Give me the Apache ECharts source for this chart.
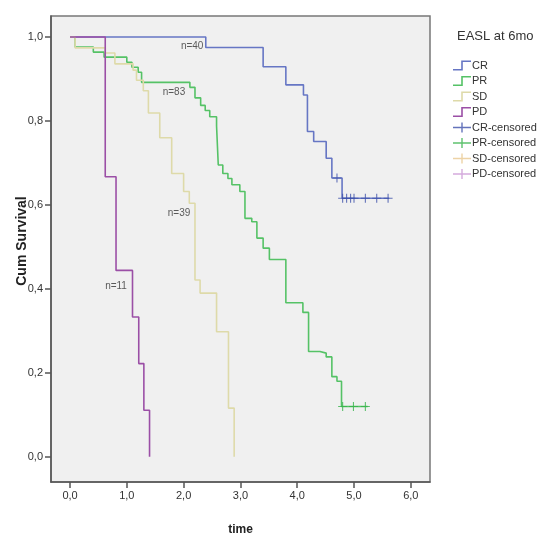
<!DOCTYPE html>
<html>
<head>
<meta charset="utf-8">
<script src="https://cdn.jsdelivr.net/npm/echarts@6/dist/echarts.min.js"></script>
<style>html,body{margin:0;padding:0;background:#fff;}#c{width:538px;height:540px;}</style>
</head>
<body>
<div id="c"></div>
<script>
// ---- Data ----
const groupNames = ['CR', 'PR', 'SD', 'PD'];
const censorNames = ['CR-censored', 'PR-censored', 'SD-censored', 'PD-censored'];

const crTime = [0, 2.39, 3.40, 3.80, 4.11, 4.18, 4.29, 4.51, 4.61, 4.79, 5.62];
const crSurv = [1.0, 0.975, 0.929, 0.886, 0.862, 0.775, 0.751, 0.711, 0.664, 0.616, 0.616];
const crCensT = [4.70, 4.80, 4.87, 4.94, 5.00, 5.20, 5.40, 5.60];
const crCensS = [0.664, 0.616, 0.616, 0.616, 0.616, 0.616, 0.616, 0.616];

const prTime = [0, 0.09, 0.41, 0.60, 1.00, 1.09, 1.20, 1.26, 2.11, 2.20, 2.30, 2.38, 2.46, 2.58, 2.61, 2.69, 2.78, 2.85, 2.99, 3.08, 3.20, 3.29, 3.40, 3.51, 3.80, 4.10, 4.20, 4.40, 4.51, 4.61, 4.70, 4.78, 5.24];
const prSurv = [1.0, 0.976, 0.964, 0.952, 0.940, 0.928, 0.916, 0.892, 0.880, 0.855, 0.837, 0.825, 0.810, 0.788, 0.695, 0.675, 0.663, 0.648, 0.632, 0.568, 0.560, 0.521, 0.497, 0.470, 0.367, 0.344, 0.251, 0.247, 0.238, 0.191, 0.180, 0.120, 0.120];
const prCensT = [4.80, 4.99, 5.20];
const prCensS = [0.120, 0.120, 0.120];

const sdTime = [0, 0.09, 0.62, 0.79, 1.11, 1.17, 1.29, 1.38, 1.58, 1.79, 2.00, 2.10, 2.20, 2.29, 2.58, 2.79, 2.89];
const sdSurv = [1.0, 0.974, 0.962, 0.936, 0.921, 0.897, 0.872, 0.819, 0.760, 0.675, 0.632, 0.604, 0.421, 0.390, 0.298, 0.116, 0.0];
const sdCensT = [];
const sdCensS = [];

const pdTime = [0, 0.62, 0.81, 1.10, 1.21, 1.30, 1.40];
const pdSurv = [1.0, 0.667, 0.444, 0.333, 0.222, 0.111, 0.0];
const pdCensT = [];
const pdCensS = [];

const xTicks = [0, 1, 2, 3, 4, 5, 6];
const yTicks = [0, 0.2, 0.4, 0.6, 0.8, 1.0];

const nLabels = ['n=40', 'n=83', 'n=39', 'n=11'];
const nLabelT = [2.15, 1.83, 1.92, 0.81];
const nLabelS = [0.979, 0.869, 0.580, 0.407];

// ---- Styles ----
const lineColors = ['#6676c4', '#55c266', '#dedaa9', '#9b4fa6'];
const censColors = ['#3d50aa', '#36b34a', '#e8c890', '#c995d3'];
const FONT = "'Liberation Sans','Arial',sans-serif";

const stepIcon = 'path://M0,8.4 L8.2,8.4 L8.2,0 L18,0 L18,1.6 L9.8,1.6 L9.8,10 L0,10 Z';
const plusIcon = 'path://M0,4.3 L18,4.3 L18,5.7 L0,5.7 Z M8.3,0 L9.7,0 L9.7,10 L8.3,10 Z';
const censorSymbol = 'path://M0,4.4 L10,4.4 L10,5.6 L0,5.6 Z M4.4,0 L5.6,0 L5.6,10 L4.4,10 Z';

const zip = (a, b) => a.map((v, i) => [v, b[i]]);
const fmt = v => v.toFixed(1).replace('.', ',');

const lineData = [zip(crTime, crSurv), zip(prTime, prSurv), zip(sdTime, sdSurv), zip(pdTime, pdSurv)];
const censData = [zip(crCensT, crCensS), zip(prCensT, prCensS), zip(sdCensT, sdCensS), zip(pdCensT, pdCensS)];

const series = [];
groupNames.forEach((n, i) => {
  series.push({
    name: n, type: 'line', step: 'end', data: lineData[i],
    symbol: 'none', color: lineColors[i],
    lineStyle: { width: 1.6, color: lineColors[i] },
    animation: false, silent: true
  });
});
censorNames.forEach((n, i) => {
  series.push({
    name: n, type: 'scatter', data: censData[i],
    symbol: censorSymbol, symbolSize: 9, color: censColors[i],
    itemStyle: { color: censColors[i] },
    animation: false, silent: true, z: 5
  });
});
series.push({
  name: 'labels', type: 'scatter', symbolSize: 0, animation: false, silent: true,
  data: nLabels.map((t, i) => ({ name: t, value: [nLabelT[i], nLabelS[i]] })),
  label: { show: true, position: 'inside', formatter: p => p.name, color: '#333', fontSize: 10, fontFamily: FONT },
  z: 6
});

const legendData = groupNames.map((n, i) => ({ name: n, icon: stepIcon, itemStyle: { color: lineColors[i] } }))
  .concat(censorNames.map((n, i) => ({ name: n, icon: plusIcon, itemStyle: { color: censColors[i] } })));

const chart = echarts.init(document.getElementById('c'), null, { renderer: 'canvas' });
chart.setOption({
  backgroundColor: '#fff',
  animation: false,
  title: {
    text: 'EASL at 6mo', left: 452, top: 25,
    textStyle: { fontSize: 13, fontWeight: 'normal', color: '#333', fontFamily: FONT }
  },
  legend: {
    orient: 'vertical', left: 448, top: 55, itemGap: 4.5, itemWidth: 18, itemHeight: 10,
    selectedMode: false, data: legendData,
    textStyle: { fontSize: 11, color: '#333', fontFamily: FONT, padding: [0, 0, 0, -4] }
  },
  grid: {
    left: 51, right: 108, top: 16, bottom: 58, show: true, containLabel: false,
    outerBoundsMode: 'none',
    backgroundColor: '#f0f0f0', borderColor: '#777', borderWidth: 1.5
  },
  xAxis: {
    type: 'value', min: -0.335, max: 6.338,
    name: 'time', nameLocation: 'middle', nameGap: 42, nameMoveOverlap: false,
    nameTextStyle: { fontSize: 12, fontWeight: 'bold', color: '#222', fontFamily: FONT },
    axisLine: { show: true, onZero: false, lineStyle: { color: '#555', width: 1.5 } },
    axisTick: { show: true, customValues: xTicks, length: 6, lineStyle: { color: '#555', width: 1.5 } },
    axisLabel: { customValues: xTicks, formatter: fmt, fontSize: 11, color: '#333', margin: 8, fontFamily: FONT },
    splitLine: { show: false }
  },
  yAxis: {
    type: 'value', min: -0.06, max: 1.05,
    name: 'Cum Survival', nameLocation: 'middle', nameGap: 22, nameMoveOverlap: false,
    nameTextStyle: { fontSize: 14, fontWeight: 'bold', color: '#222', fontFamily: FONT, padding: [0, 0, 0, 16] },
    axisLine: { show: true, onZero: false, lineStyle: { color: '#555', width: 1.5 } },
    axisTick: { show: true, customValues: yTicks, length: 6, lineStyle: { color: '#555', width: 1.5 } },
    axisLabel: { customValues: yTicks, formatter: fmt, fontSize: 11, color: '#333', margin: 8, fontFamily: FONT },
    splitLine: { show: false }
  },
  series: series
});
</script>
</body>
</html>
